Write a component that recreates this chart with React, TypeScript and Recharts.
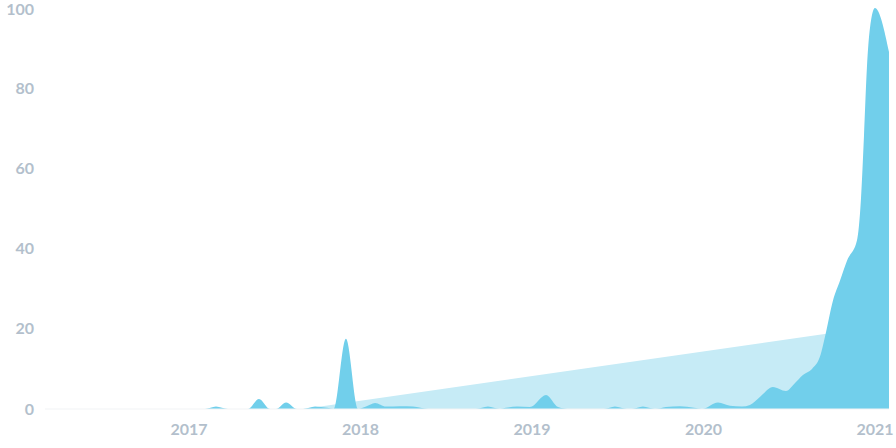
import React from 'react';
import { AreaChart, Area, XAxis, YAxis } from 'recharts';

// fractional years
const dates = [
  2016.16, 2017.093, 2017.157, 2017.227, 2017.344, 2017.408, 2017.472, 2017.507, 2017.566, 2017.63,
  2017.665, 2017.735, 2017.805, 2017.845, 2017.915, 2017.985, 2018.032, 2018.085, 2018.149, 2018.23,
  2018.306, 2018.394, 2018.673, 2018.743, 2018.813, 2018.848, 2018.913, 2018.988, 2019.082, 2019.152,
  2019.222, 2019.42, 2019.484, 2019.554, 2019.583, 2019.647, 2019.717, 2019.781, 2019.863, 2019.945,
  2019.991, 2020.085, 2020.155, 2020.224, 2020.271, 2020.329, 2020.405, 2020.481, 2020.534, 2020.58,
  2020.633, 2020.679, 2020.714, 2020.755, 2020.796, 2020.837, 2020.895, 2020.918, 2020.936, 2020.953,
  2020.971, 2021.0, 2021.082,
];

const interest = [
  0, 0, 0.6, 0, 0, 2.5, 0, 0, 1.6, 0,
  0, 0.6, 0.3, 0, 17.5, 0, 0.6, 1.5, 0.6, 0.7,
  0.6, 0, 0, 0.6, 0, 0.3, 0.6, 0.5, 3.5, 0.5,
  0, 0, 0.6, 0, 0, 0.6, 0, 0.5, 0.7, 0.3,
  0, 1.6, 0.8, 0.6, 1, 3, 5.5, 4.5, 6.5, 8.5,
  10, 13, 19, 27, 32, 37, 42, 52, 68, 85,
  95, 100, 89,
];

// linear trend, only its two ends are known
const trendStart = 2017.665;
const trendEnd = 2021.082;
const trendEndValue = 21;

const yTicks = [0, 20, 40, 60, 80, 100];
const xTicks = [2017, 2018, 2019, 2020, 2021];

const data = dates.map((d, i) => ({
  date: d,
  interest: interest[i],
  trend: d === trendStart ? 0 : d === trendEnd ? trendEndValue : null,
}));

const tickStyle = { fill: '#b3bfcc', fontSize: 16, fontWeight: 700, fontFamily: 'Lato, sans-serif' };

export default function App() {
  return (
    <div style={{ position: 'absolute', left: 0, top: 0, background: '#fff' }}>
      <AreaChart width={896} height={448} data={data} margin={{ top: 8, right: 7, bottom: 0, left: 0 }}>
        <XAxis
          dataKey="date"
          type="number"
          domain={[2016.16, 2021.082]}
          ticks={xTicks}
          allowDataOverflow
          height={39}
          tickSize={0}
          tickMargin={15}
          axisLine={{ stroke: '#f1f3f5' }}
          tick={tickStyle}
        />
        <YAxis
          domain={[0, 100]}
          ticks={yTicks}
          width={45}
          tickSize={0}
          tickMargin={11}
          axisLine={false}
          tick={tickStyle}
        />
        <Area
          type="linear"
          dataKey="trend"
          connectNulls
          stroke="none"
          fill="#c6ebf6"
          fillOpacity={1}
          isAnimationActive={false}
        />
        <Area
          type="monotone"
          dataKey="interest"
          stroke="none"
          fill="#71cfeb"
          fillOpacity={1}
          isAnimationActive={false}
        />
      </AreaChart>
    </div>
  );
}
